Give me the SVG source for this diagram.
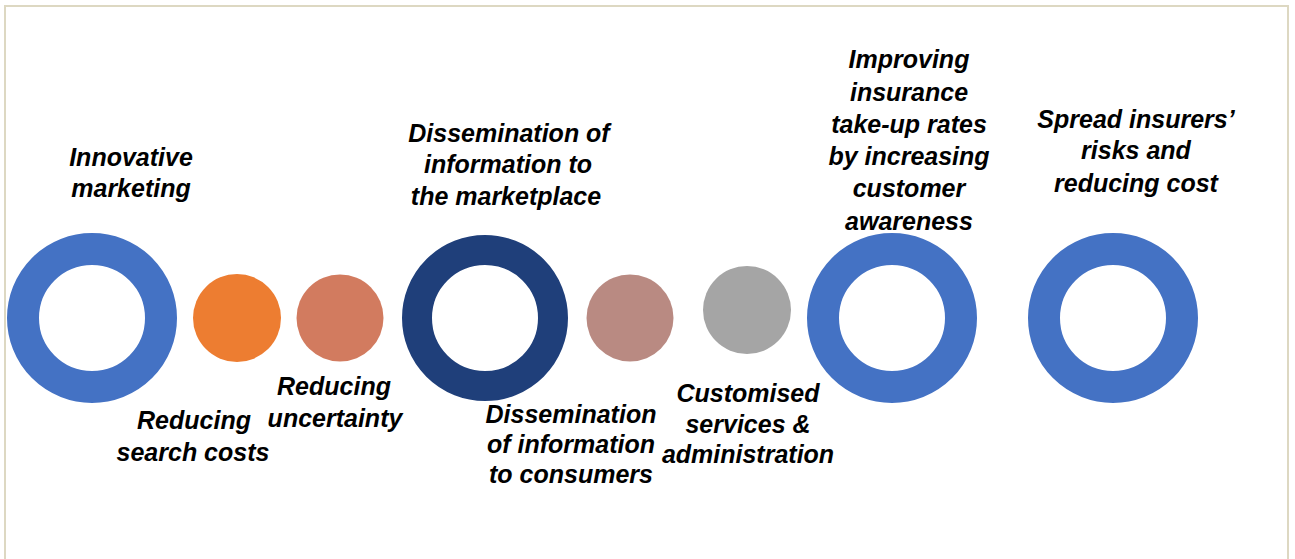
<svg xmlns="http://www.w3.org/2000/svg" width="1295" height="559" viewBox="0 0 1295 559">
<style>
.lbl{font-family:"Liberation Sans",Arial,sans-serif;font-weight:bold;font-style:italic;font-size:25px;fill:#000;text-anchor:middle}
.ring{fill:none}
.frame{fill:none;stroke:#DDD8C2;stroke-width:2}
</style>
<rect width="1295" height="559" fill="#FFFFFF"/>
<path class="frame" d="M5,560 V6 H1288 V560"/>
<g id="n1">
<circle class="ring" cx="92" cy="318" r="69" stroke="#4472C4" stroke-width="32"/>
<text class="lbl" x="131" y="166">Innovative</text>
<text class="lbl" x="131" y="197">marketing</text>
</g>
<g id="n2">
<circle cx="237" cy="318" r="44" fill="#ED7D31"/>
<text class="lbl" x="194" y="429">Reducing</text>
<text class="lbl" x="193" y="461">search costs</text>
</g>
<g id="n3">
<circle cx="340" cy="318" r="43.5" fill="#D27B5F"/>
<text class="lbl" x="334" y="395">Reducing</text>
<text class="lbl" x="335" y="427">uncertainty</text>
</g>
<g id="n4">
<circle class="ring" cx="485" cy="318" r="68" stroke="#1F3F7A" stroke-width="30"/>
<text class="lbl" x="509" y="142">Dissemination of</text>
<text class="lbl" x="508" y="173">information to</text>
<text class="lbl" x="506" y="205">the marketplace</text>
</g>
<g id="n5">
<circle cx="630" cy="318" r="43.5" fill="#B98A82"/>
<text class="lbl" x="571" y="423">Dissemination</text>
<text class="lbl" x="571" y="453">of information</text>
<text class="lbl" x="571" y="483">to consumers</text>
</g>
<g id="n6">
<circle cx="747" cy="310" r="44" fill="#A5A5A5"/>
<text class="lbl" x="748" y="402">Customised</text>
<text class="lbl" x="748" y="433">services &amp;</text>
<text class="lbl" x="748" y="463">administration</text>
</g>
<g id="n7">
<circle class="ring" cx="892" cy="318" r="69" stroke="#4472C4" stroke-width="32"/>
<text class="lbl" x="909" y="68">Improving</text>
<text class="lbl" x="909" y="101">insurance</text>
<text class="lbl" x="909" y="133">take-up rates</text>
<text class="lbl" x="909" y="165">by increasing</text>
<text class="lbl" x="909" y="197">customer</text>
<text class="lbl" x="909" y="230">awareness</text>
</g>
<g id="n8">
<circle class="ring" cx="1113" cy="318" r="69" stroke="#4472C4" stroke-width="32"/>
<text class="lbl" x="1136" y="128">Spread insurers’</text>
<text class="lbl" x="1136" y="159">risks and</text>
<text class="lbl" x="1136" y="192">reducing cost</text>
</g>
<g id="connectors"></g>
</svg>
